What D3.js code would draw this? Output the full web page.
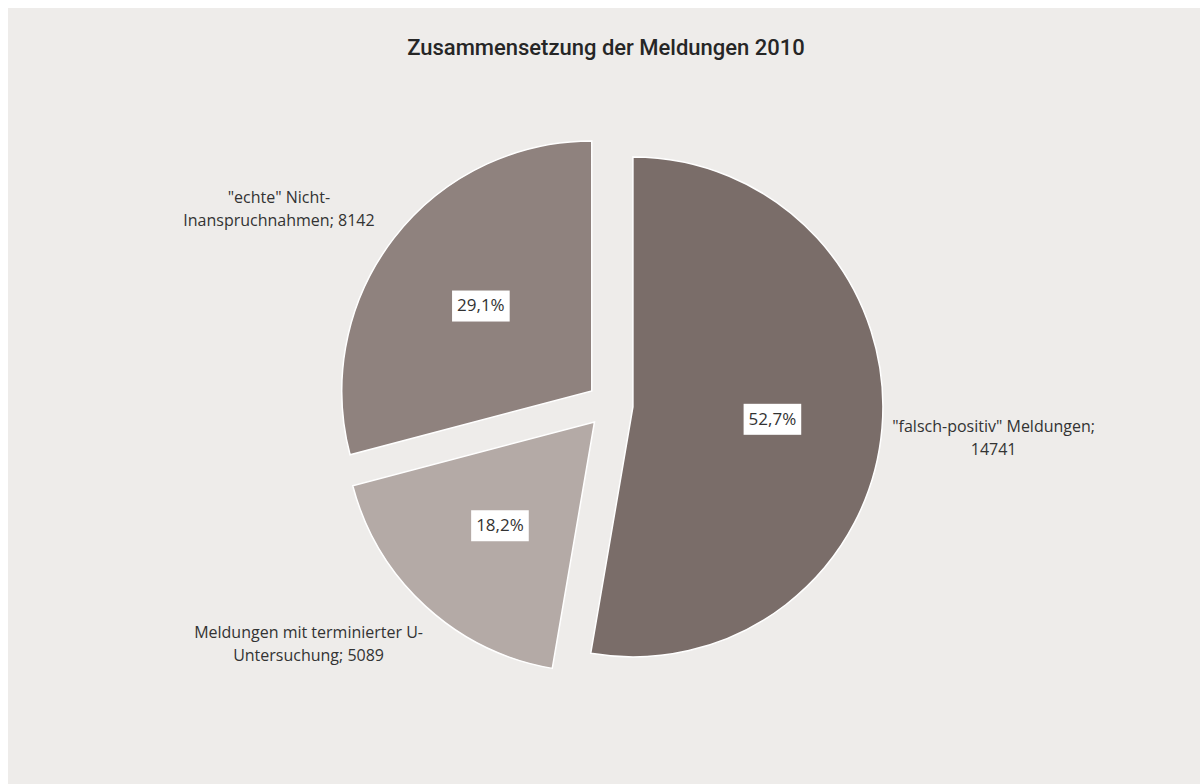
<!DOCTYPE html>
<html>
<head>
<meta charset="utf-8">
<script src="https://cdn.jsdelivr.net/npm/d3@7"></script>
<style>
  html, body { margin: 0; padding: 0; background: #fff; }
  svg { display: block; font-family: "Open Sans", "Liberation Sans", Arial, sans-serif; }
</style>
</head>
<body>
<svg id="chart" width="1200" height="784"></svg>
<script>
const title = 'Zusammensetzung der Meldungen 2010';
const categories = ['"falsch-positiv" Meldungen', 'Meldungen mit terminierter U-Untersuchung', '"echte" Nicht-Inanspruchnahmen'];
const values = [14741, 5089, 8142];
const labelLines = [
  ['"falsch-positiv" Meldungen;', '14741'],
  ['Meldungen mit terminierter U-', 'Untersuchung; 5089'],
  ['"echte" Nicht-', 'Inanspruchnahmen; 8142']
];
const colors = ['#7a6d69', '#b4aaa6', '#8f827e'];
// small angular nudges (degrees) for the outside labels, like Excel's best fit
const labelShift = [0, 9.7, -7.4];

const W = 1200, H = 784;
const cx = 610, cy = 405, r = 250, explode = 23;

const svg = d3.select('#chart');
svg.append('rect').attr('x', 8).attr('y', 8).attr('width', W - 8).attr('height', H - 8).attr('fill', '#eeecea');

svg.append('text')
  .attr('x', 606).attr('y', 55)
  .attr('text-anchor', 'middle')
  .attr('font-family', 'Roboto, "Open Sans", sans-serif')
  .attr('font-size', 22)
  .attr('font-weight', 500)
  .attr('fill', '#262626')
  .text(title);

const loc = d3.formatLocale({ decimal: ',', thousands: '.', grouping: [3], currency: ['', '€'] });
const pct = loc.format('.1%');

const data = categories.map((c, i) => ({ name: c, value: values[i], i }));
const total = d3.sum(values);
const arcs = d3.pie().sort(null).value(d => d.value)(data);
const arc = d3.arc().innerRadius(0).outerRadius(r);

const dir = a => [Math.sin(a), -Math.cos(a)];

const g = svg.append('g').attr('transform', `translate(${cx},${cy})`);

const slice = g.selectAll('g.slice')
  .data(arcs)
  .join('g')
  .attr('class', 'slice')
  .attr('transform', d => {
    const m = (d.startAngle + d.endAngle) / 2;
    const [x, y] = dir(m);
    return `translate(${x * explode},${y * explode})`;
  });

slice.append('path')
  .attr('d', arc)
  .attr('fill', d => colors[d.data.i])
  .attr('stroke', '#fff')
  .attr('stroke-width', 1.5);

// percentage labels in white boxes
slice.each(function (d) {
  const m = (d.startAngle + d.endAngle) / 2;
  const [x, y] = dir(m);
  const lx = x * 140, ly = y * 140;
  const grp = d3.select(this).append('g');
  const t = grp.append('text')
    .attr('x', lx).attr('y', ly)
    .attr('dy', '0.35em')
    .attr('text-anchor', 'middle')
    .attr('font-size', 17)
    .attr('fill', '#333')
    .text(pct(d.value / total));
  const bb = t.node().getBBox();
  grp.insert('rect', 'text')
    .attr('x', bb.x - 5).attr('y', ly - 15)
    .attr('width', bb.width + 10).attr('height', 31)
    .attr('fill', '#fff');
});

// category labels outside
slice.each(function (d) {
  const m = (d.startAngle + d.endAngle) / 2 + labelShift[d.data.i] * Math.PI / 180;
  const [x, y] = dir(m);
  const lx = x * 362, ly = y * 362;
  const lines = labelLines[d.data.i];
  const lh = 23;
  d3.select(this).append('text')
    .attr('text-anchor', 'middle')
    .attr('font-size', 16)
    .attr('fill', '#333')
    .selectAll('tspan')
    .data(lines)
    .join('tspan')
    .attr('x', lx)
    .attr('y', (s, k) => ly + (k - (lines.length - 1) / 2) * lh)
    .attr('dy', '0.35em')
    .text(s => s);
});
</script>
</body>
</html>
